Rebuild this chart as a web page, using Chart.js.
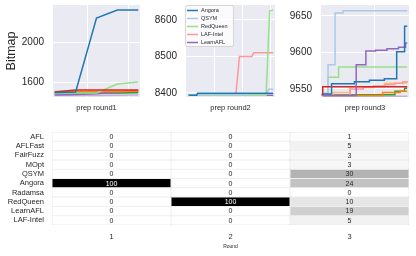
<!DOCTYPE html>
<html>
<head>
<meta charset="utf-8">
<script src="https://cdn.jsdelivr.net/npm/chart.js@4"></script>
<style>
  body { margin: 0; background: #fff; }
  .box { position: absolute; }
</style>
</head>
<body>
<div class="box" style="left:0;top:0;width:141px;height:112px"><canvas id="round1"></canvas></div>
<div class="box" style="left:141px;top:0;width:135px;height:112px"><canvas id="round2"></canvas></div>
<div class="box" style="left:276px;top:0;width:134px;height:112px"><canvas id="round3"></canvas></div>
<div class="box" style="left:0;top:125px;width:416px;height:131px"><canvas id="heat"></canvas></div>
<script>
// heatmap: share (%) of new bitmap coverage per fuzzer and round
const fuzzers = ['AFL', 'AFLFast', 'FairFuzz', 'MOpt', 'QSYM', 'Angora', 'Radamsa', 'RedQueen', 'LearnAFL', 'LAF-Intel'];
const rounds = ['1', '2', '3'];
const round1Share = [0, 0, 0, 0, 0, 100, 0, 0, 0, 0];
const round2Share = [0, 0, 0, 0, 0, 0, 0, 100, 0, 0];
const round3Share = [1, 5, 3, 3, 30, 24, 0, 10, 19, 5];

// prep round1 - sampled bitmap size
const r1Time = [2, 26, 50, 74, 98];
const r1AFL = [1505, 1505, 1505, 1506, 1508];
const r1AFLFast = [1495, 1495, 1496, 1498, 1500];
const r1FairFuzz = [1490, 1490, 1490, 1490, 1495];
const r1MOpt = [1500, 1520, 1520, 1520, 1520];
const r1QSYM = [1480, 1480, 1482, 1485, 1490];
const r1Angora = [1495, 1500, 2240, 2320, 2320];
const r1Radamsa = [1465, 1465, 1466, 1468, 1470];
const r1RedQueen = [1490, 1490, 1490, 1580, 1600];
const r1LearnAFL = [1470, 1475, 1482, 1500, 1515];
const r1LafIntel = [1482, 1488, 1494, 1500, 1505];

// prep round2 - [time, bitmap]
const r2Angora = [[3, 8394], [12, 8394], [13, 8399], [98, 8399]];
const r2QSYM = [[3, 8395], [68, 8395], [70, 8398], [90, 8398], [93, 8410], [98, 8410]];
const r2RedQueen = [[3, 8394], [90, 8394], [94, 8625], [98, 8627]];
const r2LafIntel = [[3, 8394], [56, 8394], [60, 8500], [74, 8500], [76, 8510], [98, 8510]];
const r2LearnAFL = [[3, 8394], [98, 8394]];

// prep round3 - [time, bitmap] change points
const r3AFL = [[2, 9541], [70, 9545], [90, 9547], [98, 9547]];
const r3AFLFast = [[2, 9542], [14, 9545], [33, 9553], [73, 9558], [98, 9558]];
const r3FairFuzz = [[2, 9542], [84, 9547], [95, 9551], [98, 9551]];
const r3MOpt = [[0.5, 9542], [2, 9553], [98, 9553]];
const r3QSYM = [[2, 9544], [8, 9583], [16, 9654], [25, 9657], [98, 9657]];
const r3Angora = [[2, 9543], [12, 9557], [38, 9560], [55, 9562], [72, 9564], [86, 9601], [95, 9636], [98, 9636]];
const r3Radamsa = [[2, 9540], [98, 9540]];
const r3RedQueen = [[2, 9543], [8, 9566], [20, 9580], [98, 9580]];
const r3LearnAFL = [[2, 9541], [40, 9583], [51, 9602], [62, 9603], [75, 9605], [88, 9607], [96, 9613], [98, 9613]];
const r3LafIntel = [[2, 9541], [33, 9550], [48, 9552], [60, 9554], [72, 9556], [84, 9558], [93, 9560], [98, 9561]];

const palette = {
  'AFL': '#ff7f0e', 'AFLFast': '#ffbb78', 'FairFuzz': '#2ca02c', 'MOpt': '#d62728',
  'QSYM': '#aec7e8', 'Angora': '#1f77b4', 'Radamsa': '#c5b0d5', 'RedQueen': '#98df8a',
  'LearnAFL': '#9467bd', 'LAF-Intel': '#ff9896'
};

Chart.defaults.font.family = "'Liberation Sans', Arial, sans-serif";
Chart.defaults.color = '#262626';
Chart.defaults.animation = false;

function line(label, pts, stepped) {
  return {
    label: label,
    data: pts.map(p => ({x: p[0], y: p[1]})),
    borderColor: palette[label],
    borderWidth: 1.5,
    pointRadius: 0,
    fill: false,
    stepped: stepped || false
  };
}

const plotBg = {
  id: 'plotBg',
  beforeDraw(chart) {
    const a = chart.chartArea, ctx = chart.ctx;
    ctx.save();
    ctx.fillStyle = '#eaeaf2';
    ctx.fillRect(a.left, a.top, a.right - a.left, a.bottom - a.top);
    ctx.restore();
  }
};

const boxLegend = {
  id: 'boxLegend',
  afterDraw(chart) {
    if (!chart.options.plugins.boxLegend || !chart.options.plugins.boxLegend.show) return;
    const a = chart.chartArea, ctx = chart.ctx;
    const x = a.left - 1, y = a.top, w = 48, h = 41;
    ctx.save();
    ctx.fillStyle = 'rgba(255,255,255,0.8)';
    ctx.strokeStyle = '#cccccc';
    ctx.lineWidth = 0.8;
    ctx.beginPath();
    ctx.roundRect(x + 0.5, y + 0.5, w, h, 2);
    ctx.fill();
    ctx.stroke();
    ctx.font = "5.5px 'Liberation Sans', Arial, sans-serif";
    ctx.textBaseline = 'middle';
    chart.data.datasets.forEach((ds, i) => {
      const cy = y + 5.5 + i * 8;
      ctx.strokeStyle = ds.borderColor;
      ctx.lineWidth = 1.5;
      ctx.beginPath();
      ctx.moveTo(x + 2, cy);
      ctx.lineTo(x + 13, cy);
      ctx.stroke();
      ctx.fillStyle = '#262626';
      ctx.fillText(ds.label, x + 16, cy);
    });
    ctx.restore();
  }
};

function lineOptions(yMin, yMax, yStep, gridX, xTitle, yTitle, yWidth, legend) {
  return {
    responsive: true,
    maintainAspectRatio: false,
    layout: {padding: {top: 5, right: 1, left: 0, bottom: 0}},
    plugins: {legend: {display: false}, tooltip: {enabled: false}, boxLegend: {show: legend}},
    scales: {
      x: {
        type: 'linear', min: 0, max: 100,
        afterBuildTicks: s => { s.ticks = gridX.map(v => ({value: v})); },
        afterFit: s => { s.height = 15; s.paddingLeft = 0; s.paddingRight = 0; },
        ticks: {display: false},
        grid: {color: '#ffffff', lineWidth: 1, drawTicks: false},
        border: {display: false},
        title: {display: true, text: xTitle, font: {size: 7.5}, padding: {top: 0, bottom: 0}}
      },
      y: {
        min: yMin, max: yMax,
        afterBuildTicks: s => {
          const t = [];
          for (let v = Math.ceil(yMin / yStep) * yStep; v <= yMax; v += yStep) t.push({value: v});
          s.ticks = t;
        },
        afterFit: s => { s.width = yWidth; s.paddingTop = 0; s.paddingBottom = 0; },
        ticks: {padding: 9, font: {size: 10}, callback: v => String(v)},
        grid: {color: '#ffffff', lineWidth: 1, drawTicks: false},
        border: {display: false},
        title: {display: !!yTitle, text: yTitle, font: {size: 12.5}, padding: {top: 4, bottom: 0}}
      }
    }
  };
}

const r1 = {AFL: r1AFL, AFLFast: r1AFLFast, FairFuzz: r1FairFuzz, MOpt: r1MOpt, QSYM: r1QSYM,
  Angora: r1Angora, Radamsa: r1Radamsa, RedQueen: r1RedQueen, LearnAFL: r1LearnAFL, 'LAF-Intel': r1LafIntel};
const r1Order = ['Angora', 'MOpt', 'RedQueen', 'AFL', 'LearnAFL', 'FairFuzz', 'AFLFast', 'LAF-Intel', 'QSYM', 'Radamsa'];

new Chart(document.getElementById('round1'), {
  type: 'line',
  data: {datasets: r1Order.map(n => line(n, r1Time.map((t, i) => [t, r1[n][i]])))},
  options: lineOptions(1450, 2370, 400, [40, 87], 'prep round1', 'Bitmap', 53, false),
  plugins: [plotBg, boxLegend]
});

new Chart(document.getElementById('round2'), {
  type: 'line',
  data: {datasets: [
    line('Angora', r2Angora), line('QSYM', r2QSYM), line('RedQueen', r2RedQueen),
    line('LAF-Intel', r2LafIntel), line('LearnAFL', r2LearnAFL)
  ]},
  options: lineOptions(8389, 8641, 100, [31.5, 63, 94.5], 'prep round2', '', 45, true),
  plugins: [plotBg, boxLegend]
});

new Chart(document.getElementById('round3'), {
  type: 'line',
  data: {datasets: [
    line('Angora', r3Angora, 'before'), line('LearnAFL', r3LearnAFL, 'before'),
    line('MOpt', r3MOpt, 'before'), line('QSYM', r3QSYM, 'before'),
    line('RedQueen', r3RedQueen, 'before'), line('LAF-Intel', r3LafIntel, 'before'),
    line('AFLFast', r3AFLFast, 'before'), line('AFL', r3AFL, 'before'),
    line('FairFuzz', r3FairFuzz, 'before'), line('Radamsa', r3Radamsa, 'before')
  ]},
  options: lineOptions(9539, 9665, 50, [61], 'prep round3', '', 45, false),
  plugins: [plotBg, boxLegend]
});

// heatmap
const shares = [round1Share, round2Share, round3Share];
const grey = v => { const g = Math.round(255 * (1 - v / 100)); return `rgb(${g},${g},${g})`; };

const cellText = {
  id: 'cellText',
  afterDatasetsDraw(chart) {
    const ctx = chart.ctx;
    ctx.save();
    ctx.font = "7px 'Liberation Sans', Arial, sans-serif";
    ctx.textAlign = 'center';
    ctx.textBaseline = 'middle';
    chart.data.datasets.forEach((ds, i) => {
      chart.getDatasetMeta(i).data.forEach((el, j) => {
        const v = shares[i][j];
        ctx.fillStyle = v > 50 ? '#ffffff' : '#262626';
        ctx.fillText(String(v), (el.x + el.base) / 2, el.y + 0.5);
      });
    });
    ctx.restore();
  }
};

new Chart(document.getElementById('heat'), {
  type: 'bar',
  data: {
    labels: fuzzers,
    datasets: shares.map((s, i) => ({
      label: rounds[i],
      data: s.map(() => 1),
      backgroundColor: s.map(grey),
      borderColor: '#d9d9d9',
      borderWidth: 0.5,
      borderSkipped: false,
      inflateAmount: 0,
      barPercentage: 1,
      categoryPercentage: 1
    }))
  },
  options: {
    indexAxis: 'y',
    responsive: true,
    maintainAspectRatio: false,
    layout: {padding: {top: 7, right: 7, left: 0, bottom: 0}},
    plugins: {legend: {display: false}, tooltip: {enabled: false}},
    scales: {
      x: {
        type: 'linear', stacked: true, min: 0, max: 3,
        afterBuildTicks: s => { s.ticks = rounds.map((r, i) => ({value: i + 0.5})); },
        afterFit: s => { s.height = 31; s.paddingLeft = 0; s.paddingRight = 0; },
        ticks: {padding: 7, font: {size: 7.5}, callback: (v, i) => rounds[i]},
        grid: {display: false, drawTicks: false},
        border: {display: false},
        title: {display: true, text: 'Round', font: {size: 5}, padding: {top: 0, bottom: 6}}
      },
      y: {
        stacked: true,
        afterFit: s => { s.width = 52; s.paddingTop = 0; s.paddingBottom = 0; },
        ticks: {padding: 8, font: {size: 7.5}, autoSkip: false},
        grid: {display: false, drawTicks: false},
        border: {display: false}
      }
    }
  },
  plugins: [cellText]
});
</script>
</body>
</html>
